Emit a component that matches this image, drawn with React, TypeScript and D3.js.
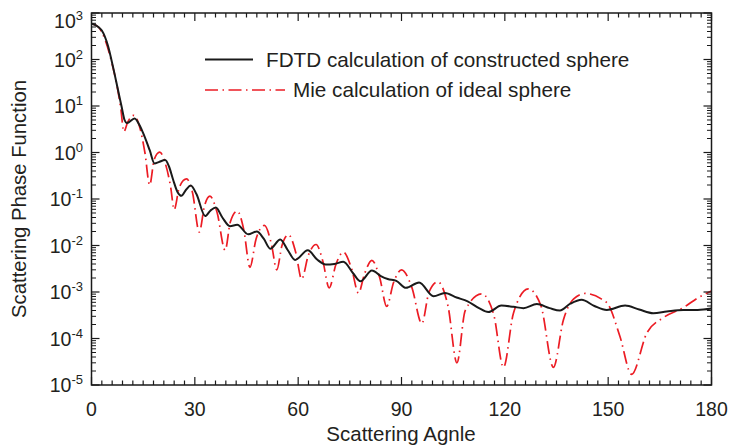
import React from "react";
import * as d3 from "d3";

// ---- data ----
const fdtdAngles = [0, 2, 3, 4.8, 6.2, 7.7, 8.7, 9.6, 10.3, 12.5, 14, 15, 16.9, 18.3, 19.5, 21.4, 22.5, 23.7, 25, 26.1, 27.5, 28.8, 30.5, 33, 34.5, 36.1, 38, 40.2, 42.3, 45.5, 48, 50, 51.9, 54.8, 57, 59.1, 62.8, 65.5, 68, 70.5, 73.1, 76, 78.1, 81.4, 84, 86, 88.5, 91.3, 95.1, 99.3, 102.6, 106, 109.2, 112.5, 115.2, 119, 122.5, 125.4, 129.3, 133, 136, 139, 142.3, 146, 149.6, 154.9, 159, 163.1, 167, 171.8, 176, 180];
const fdtdValues = [590, 500, 420, 195, 72, 22, 10, 5.0, 4.3, 5.4, 3.8, 2.6, 1.12, 0.58, 0.62, 0.69, 0.5, 0.26, 0.14, 0.117, 0.16, 0.195, 0.126, 0.043, 0.056, 0.066, 0.04, 0.026, 0.028, 0.0174, 0.02, 0.014, 0.0085, 0.0135, 0.0079, 0.0049, 0.0079, 0.005, 0.0039, 0.004, 0.0045, 0.0025, 0.0017, 0.0029, 0.0022, 0.0019, 0.00174, 0.00123, 0.0016, 0.00081, 0.00095, 0.00076, 0.00063, 0.00045, 0.00037, 0.00051, 0.00048, 0.00045, 0.00055, 0.00045, 0.0004, 0.00056, 0.00068, 0.0005, 0.00041, 0.00051, 0.00042, 0.00035, 0.00038, 0.00041, 0.00041, 0.00044];

const mieAngles = [0, 2, 4, 6, 7.5, 8.5, 9.4, 10.5, 12.3, 14, 15.5, 16.9, 18.2, 19.8, 21.5, 23, 24, 25.5, 27.6, 29.3, 31.3, 32.8, 34.4, 36.5, 38.8, 40.3, 42.3, 44.2, 46, 47.8, 50.2, 52.2, 53.8, 55.3, 57.2, 59.3, 61, 63, 65.2, 67.2, 69, 71, 73.1, 75.5, 77.5, 79.3, 81.4, 83.7, 85.7, 87.7, 90, 93, 95.9, 98, 100.5, 103.5, 106.1, 108.5, 113.3, 116.8, 119.6, 122.5, 126.8, 130.5, 134.1, 137, 140, 143.3, 148, 150, 153.4, 156.8, 161.2, 166, 171.8, 176.2, 180];
const mieValues = [590, 500, 260, 79, 25, 8.9, 2.8, 4.5, 6.3, 3.5, 1.0, 0.2, 0.71, 1.02, 0.56, 0.178, 0.059, 0.18, 0.27, 0.14, 0.0195, 0.071, 0.115, 0.05, 0.0079, 0.032, 0.055, 0.022, 0.0034, 0.014, 0.027, 0.011, 0.003, 0.01, 0.017, 0.0071, 0.0019, 0.0063, 0.0105, 0.0045, 0.00123, 0.004, 0.0072, 0.0032, 0.00095, 0.0025, 0.0048, 0.002, 0.00049, 0.0016, 0.003, 0.00126, 0.00021, 0.001, 0.00166, 0.0005, 0.00003, 0.0004, 0.00091, 0.00032, 0.000024, 0.00035, 0.00117, 0.0005, 0.000024, 0.00025, 0.00071, 0.00093, 0.00071, 0.00054, 0.000112, 0.000017, 0.00013, 0.00028, 0.00046, 0.00076, 0.00105];

const xTicks = [0, 30, 60, 90, 120, 150, 180];
const yExponents = [3, 2, 1, 0, -1, -2, -3, -4, -5];
const legendLabels = ["FDTD calculation of constructed sphere", "Mie calculation of ideal sphere"];
const xTitle = "Scattering Agnle";
const yTitle = "Scattering Phase Function";

const W = 730, H = 447;
const left = 91.5, right = 711.5, top = 13, bottom = 385;
const FONT = "'Liberation Sans', Arial, Helvetica, sans-serif";
const TXT = "#231f20";
const RED = "#ec1c24";

export default function App() {
  const x = d3.scaleLinear().domain([0, 180]).range([left, right]);
  const y = d3.scaleLog().domain([1e-5, 1e3]).range([bottom, top]);

  const line = d3
    .line<[number, number]>()
    .x((d) => x(d[0]))
    .y((d) => y(d[1]))
    .curve(d3.curveMonotoneX);

  const fdtd = fdtdAngles.map((a, i) => [a, fdtdValues[i]] as [number, number]);
  const mie = mieAngles.map((a, i) => [a, mieValues[i]] as [number, number]);

  const xMinor = d3.range(0, 181, 3);
  const yMinor: number[] = [];
  for (let e = -5; e < 3; e++) for (let m = 2; m <= 9; m++) yMinor.push(m * Math.pow(10, e));

  const MAJ = 8, MIN = 4.5;

  return (
    <svg width={W} height={H} style={{ position: "absolute", left: 0, top: 0, background: "#fff" }}>
      <defs>
        <clipPath id="plot">
          <rect x={left} y={top} width={right - left} height={bottom - top} />
        </clipPath>
      </defs>
      <g clipPath="url(#plot)">
        <path d={line(mie) || ""} fill="none" stroke={RED} strokeWidth={1.7} strokeDasharray="13,4.5,1.5,4.5" />
        <path d={line(fdtd) || ""} fill="none" stroke="#1a1a1a" strokeWidth={2} />
      </g>
      {/* frame */}
      <rect x={left} y={top} width={right - left} height={bottom - top} fill="none" stroke="#1a1a1a" strokeWidth={1.5} />
      {/* x ticks */}
      {xMinor.map((v) => {
        const len = v % 30 === 0 ? MAJ : MIN;
        return (
          <g key={"x" + v} stroke="#1a1a1a" strokeWidth={1.2}>
            <line x1={x(v)} x2={x(v)} y1={bottom} y2={bottom - len} />
            <line x1={x(v)} x2={x(v)} y1={top} y2={top + len} />
          </g>
        );
      })}
      {/* y ticks */}
      {yExponents.map((e) => (
        <g key={"ym" + e} stroke="#1a1a1a" strokeWidth={1.2}>
          <line x1={left} x2={left + MAJ} y1={y(Math.pow(10, e))} y2={y(Math.pow(10, e))} />
          <line x1={right} x2={right - MAJ} y1={y(Math.pow(10, e))} y2={y(Math.pow(10, e))} />
        </g>
      ))}
      {yMinor.map((v, i) => (
        <g key={"yn" + i} stroke="#1a1a1a" strokeWidth={1}>
          <line x1={left} x2={left + MIN} y1={y(v)} y2={y(v)} />
          <line x1={right} x2={right - MIN} y1={y(v)} y2={y(v)} />
        </g>
      ))}
      {/* x tick labels */}
      {xTicks.map((v) => (
        <text key={"xl" + v} x={x(v)} y={416} textAnchor="middle" fontFamily={FONT} fontSize={19.5} fill={TXT}>
          {v}
        </text>
      ))}
      {/* y tick labels */}
      {yExponents.map((e) => {
        const yy = Math.max(y(Math.pow(10, e)), 21);
        return (
          <text key={"yl" + e} x={83} y={yy + 7} textAnchor="end" fontFamily={FONT} fontSize={19.5} fill={TXT}>
            10
            <tspan fontSize={13} dy={-8}>
              {e < 0 ? "-" + Math.abs(e) : String(e)}
            </tspan>
          </text>
        );
      })}
      {/* axis titles */}
      <text x={401} y={441} textAnchor="middle" fontFamily={FONT} fontSize={20.5} fill={TXT}>
        {xTitle}
      </text>
      <text transform="translate(26,199) rotate(-90)" textAnchor="middle" fontFamily={FONT} fontSize={20.3} fill={TXT}>
        {yTitle}
      </text>
      {/* legend */}
      <line x1={205} x2={253} y1={59.5} y2={59.5} stroke="#1a1a1a" strokeWidth={2} />
      <text x={266} y={66.5} fontFamily={FONT} fontSize={20.7} fill={TXT}>
        {legendLabels[0]}
      </text>
      <line x1={205} x2={285} y1={90} y2={90} stroke={RED} strokeWidth={1.7} strokeDasharray="13,4.5,1.5,4.5" />
      <text x={293} y={97} fontFamily={FONT} fontSize={20.7} fill={TXT}>
        {legendLabels[1]}
      </text>
    </svg>
  );
}
